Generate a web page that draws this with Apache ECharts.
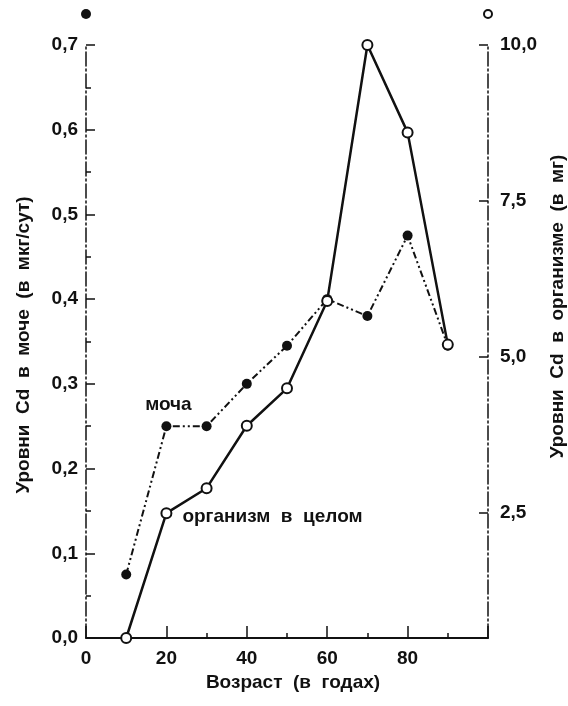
<!DOCTYPE html>
<html>
<head>
<meta charset="utf-8">
<script src="https://cdn.jsdelivr.net/npm/echarts@6/dist/echarts.min.js"></script>
<style>
  html, body { margin: 0; padding: 0; background: #fff; }
  #chart { width: 568px; height: 706px; }
</style>
</head>
<body>
<div id="chart"></div>
<script>
// Age groups (years)
const ages = [10, 20, 30, 40, 50, 60, 70, 80, 90];
// Cd in urine, µg/day (left axis)
const urineCd = [0.075, 0.25, 0.25, 0.30, 0.345, 0.40, 0.38, 0.475, 0.345];
// Cd body burden, mg (right axis)
const bodyCd = [0.5, 2.5, 2.9, 3.9, 4.5, 5.9, 10.0, 8.6, 5.2];
// Labelled values on the right axis
const bodyTicks = [2.5, 5.0, 7.5, 10.0];
// Series captions
const urineName = 'моча';
const bodyName = 'организм  в  целом';

const INK = '#111';
const FONT = 'Liberation Sans, Arial, sans-serif';
const comma = v => v.toFixed(1).replace('.', ',');

const tickFont = { color: INK, fontFamily: FONT, fontWeight: 'bold', fontSize: 19 };
const nameFont = { color: INK, fontFamily: FONT, fontWeight: 'bold', fontSize: 19 };

// Caption is attached to the 20-year point of each series
const urineData = ages.map((a, i) => {
  const item = { value: [a, urineCd[i]] };
  if (i === 1) {
    item.label = {
      show: true, position: 'top', distance: 7, offset: [2, 0],
      formatter: urineName, ...nameFont
    };
  }
  return item;
});
const bodyData = ages.map((a, i) => {
  const item = { value: [a, bodyCd[i]] };
  if (i === 1) {
    item.label = {
      show: true, position: 'right', distance: 10, offset: [0, 4],
      formatter: bodyName, ...nameFont
    };
  }
  return item;
});

const chart = echarts.init(document.getElementById('chart'), null, { renderer: 'canvas' });
chart.setOption({
  animation: false,
  backgroundColor: '#fff',
  grid: { left: 86, right: 80, top: 45, bottom: 68, containLabel: false, outerBoundsMode: 'none' },
  xAxis: {
    type: 'value',
    min: 0, max: 100, interval: 20,
    name: 'Возраст  (в  годах)',
    nameLocation: 'middle', nameGap: 35,
    nameTextStyle: { ...nameFont, padding: [0, 0, 0, 12] },
    axisLine: { show: true, lineStyle: { color: INK, width: 2 } },
    axisTick: { show: true, inside: true, length: 12, lineStyle: { color: INK, width: 1.5 } },
    minorTick: { show: true, splitNumber: 2, length: 5, lineStyle: { color: INK, width: 1.5 } },
    axisLabel: { ...tickFont, margin: 11, showMaxLabel: false },
    splitLine: { show: false }
  },
  yAxis: [
    {
      type: 'value',
      position: 'left',
      min: 0, max: 0.7, interval: 0.1,
      name: 'Уровни  Cd  в  моче  (в  мкг/сут)',
      nameLocation: 'middle', nameGap: 53, nameRotate: 90,
      nameTextStyle: { ...nameFont, padding: [0, 7, 0, 0] },
      axisLine: {
        show: true,
        symbol: ['none', 'circle'], symbolSize: [10, 10], symbolOffset: [0, 31],
        lineStyle: { color: INK, width: 1.5, type: [14, 3, 2, 3] }
      },
      axisTick: { show: true, inside: true, length: 9, lineStyle: { color: INK, width: 1.5 } },
      minorTick: { show: true, splitNumber: 2, length: 5, lineStyle: { color: INK, width: 1.5 } },
      axisLabel: { ...tickFont, margin: 8, formatter: comma },
      splitLine: { show: false }
    },
    {
      type: 'value',
      position: 'right',
      min: 0.5, max: 10,
      name: 'Уровни  Cd  в  организме  (в  мг)',
      nameLocation: 'middle', nameGap: 58, nameRotate: 90,
      nameTextStyle: { ...nameFont, padding: [0, 0, 0, 70] },
      axisLine: {
        show: true,
        symbol: ['none', 'emptyCircle'], symbolSize: [8, 8], symbolOffset: [0, 31],
        lineStyle: { color: INK, width: 1.5, type: [14, 3, 2, 3] }
      },
      axisTick: { show: true, inside: true, length: 9, customValues: bodyTicks, lineStyle: { color: INK, width: 1.5 } },
      axisLabel: { ...tickFont, margin: 12, customValues: bodyTicks, formatter: comma },
      splitLine: { show: false }
    }
  ],
  series: [
    {
      name: urineName,
      type: 'line',
      yAxisIndex: 0,
      data: urineData,
      symbol: 'circle',
      symbolSize: 10,
      itemStyle: { color: INK },
      lineStyle: { color: INK, width: 2, type: [7, 3, 2, 3, 2, 3] },
      z: 2
    },
    {
      name: bodyName,
      type: 'line',
      yAxisIndex: 1,
      data: bodyData,
      symbol: 'emptyCircle',
      symbolSize: 10,
      itemStyle: { color: INK, borderWidth: 2 },
      lineStyle: { color: INK, width: 2.5 },
      z: 3
    }
  ]
});
</script>
</body>
</html>
